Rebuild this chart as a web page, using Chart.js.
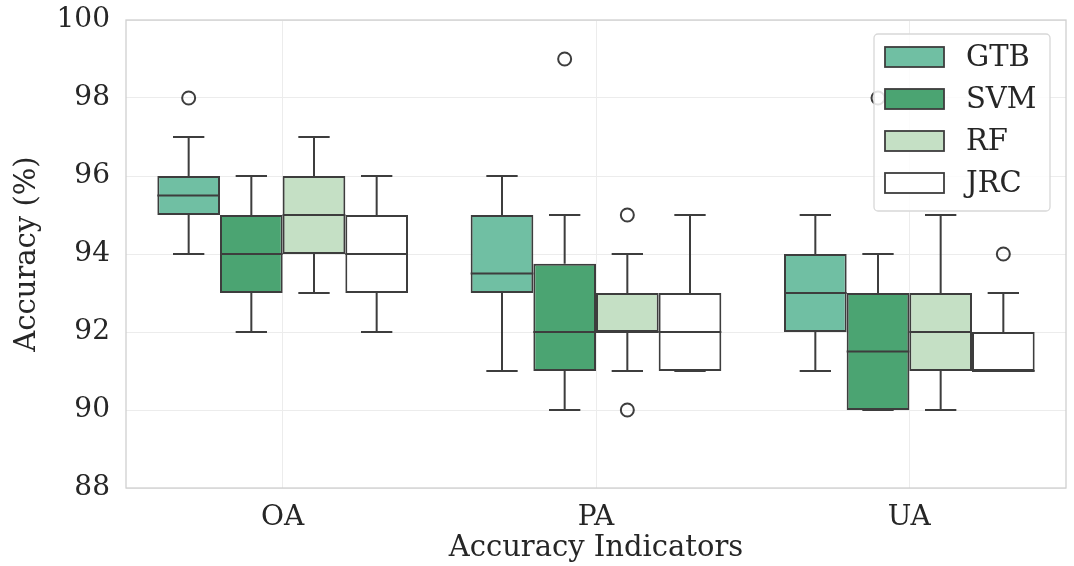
<!DOCTYPE html>
<html>
<head>
<meta charset="utf-8">
<script src="https://cdn.jsdelivr.net/npm/chart.js@4.4.1/dist/chart.umd.min.js"></script>
<style>
  html, body { margin: 0; padding: 0; background: #fff; }
  #wrap { width: 1074px; height: 566px; }
</style>
</head>
<body>
<div id="wrap"><canvas id="accBox"></canvas></div>
<script>
// categories / series
const categories = ['OA', 'PA', 'UA'];
const models = ['GTB', 'SVM', 'RF', 'JRC'];
const yTicks = [88, 90, 92, 94, 96, 98, 100];

// box stats per category (OA, PA, UA)
const gtbQ1 = [95, 93, 92];
const gtbQ3 = [96, 95, 94];
const gtbMed = [95.5, 93.5, 93];
const gtbLow = [94, 91, 91];
const gtbHigh = [97, 96, 95];
const gtbOut = [[98], [], []];

const svmQ1 = [93, 91, 90];
const svmQ3 = [95, 93.75, 93];
const svmMed = [94, 92, 91.5];
const svmLow = [92, 90, 90];
const svmHigh = [96, 95, 94];
const svmOut = [[], [99], [98]];

const rfQ1 = [94, 92, 91];
const rfQ3 = [96, 93, 93];
const rfMed = [95, 92, 92];
const rfLow = [93, 91, 90];
const rfHigh = [97, 94, 95];
const rfOut = [[], [95, 90], []];

const jrcQ1 = [93, 91, 91];
const jrcQ3 = [95, 93, 92];
const jrcMed = [94, 92, 91];
const jrcLow = [92, 91, 91];
const jrcHigh = [96, 95, 93];
const jrcOut = [[], [], [94]];

const boxColors = ['#70bfa3', '#4ba472', '#c5e0c5', '#ffffff'];
const edge = '#3d3d3d';
const font = "'DejaVu Serif', serif";
const txt = '#262626';

const stats = [
    { q1: gtbQ1, q3: gtbQ3, med: gtbMed, low: gtbLow, high: gtbHigh, out: gtbOut },
    { q1: svmQ1, q3: svmQ3, med: svmMed, low: svmLow, high: svmHigh, out: svmOut },
    { q1: rfQ1, q3: rfQ3, med: rfMed, low: rfLow, high: rfHigh, out: rfOut },
    { q1: jrcQ1, q3: jrcQ3, med: jrcMed, low: jrcLow, high: jrcHigh, out: jrcOut },
];

// floating bars = the boxes
let datasets = models.map((m, i) => ({
    label: m,
    data: categories.map((c, j) => [stats[i].q1[j], stats[i].q3[j]]),
    backgroundColor: boxColors[i],
    borderColor: edge,
    borderWidth: 2,
    borderSkipped: false,
    categoryPercentage: 0.8,
    barPercentage: 1.0,
}));

// plot frame behind everything
const framePlugin = {
    id: 'frame',
    beforeDatasetsDraw(chart) {
        const { ctx, chartArea: a } = chart;
        ctx.save();
        ctx.strokeStyle = '#d0d0d0';
        ctx.lineWidth = 1.3;
        ctx.strokeRect(a.left, a.top, a.right - a.left, a.bottom - a.top);
        ctx.restore();
    }
};

// whiskers, caps, medians, fliers
const boxPlugin = {
    id: 'boxParts',
    afterDatasetsDraw(chart) {
        const { ctx } = chart;
        const y = chart.scales.y;
        ctx.save();
        ctx.strokeStyle = edge;
        ctx.lineWidth = 2;
        stats.forEach((s, i) => {
            const meta = chart.getDatasetMeta(i);
            meta.data.forEach((bar, j) => {
                const cx = bar.x;
                const w = bar.width;
                const yQ1 = y.getPixelForValue(s.q1[j]);
                const yQ3 = y.getPixelForValue(s.q3[j]);
                const yLo = y.getPixelForValue(s.low[j]);
                const yHi = y.getPixelForValue(s.high[j]);
                const yMed = y.getPixelForValue(s.med[j]);
                ctx.beginPath();
                // whiskers
                ctx.moveTo(cx, yQ3); ctx.lineTo(cx, yHi);
                ctx.moveTo(cx, yQ1); ctx.lineTo(cx, yLo);
                // caps
                ctx.moveTo(cx - w / 4, yHi); ctx.lineTo(cx + w / 4, yHi);
                ctx.moveTo(cx - w / 4, yLo); ctx.lineTo(cx + w / 4, yLo);
                // median
                ctx.moveTo(cx - w / 2, yMed); ctx.lineTo(cx + w / 2, yMed);
                ctx.stroke();
                s.out[j].forEach(v => {
                    ctx.beginPath();
                    ctx.arc(cx, y.getPixelForValue(v), 6.5, 0, Math.PI * 2);
                    ctx.stroke();
                });
            });
        });
        ctx.restore();
    }
};

// legend box top-right inside the plot
const legendPlugin = {
    id: 'boxLegend',
    afterDraw(chart) {
        const { ctx, chartArea: a } = chart;
        const lw = 176, lh = 177;
        const lx = a.right - lw - 16, ly = a.top + 14;
        ctx.save();
        ctx.fillStyle = 'rgba(255,255,255,0.85)';
        ctx.strokeStyle = '#d8d8d8';
        ctx.lineWidth = 1.3;
        ctx.beginPath();
        ctx.roundRect(lx, ly, lw, lh, 4);
        ctx.fill();
        ctx.stroke();
        ctx.font = '29px ' + font;
        ctx.textBaseline = 'middle';
        models.forEach((m, i) => {
            const cy = ly + 23 + i * 42;
            ctx.fillStyle = boxColors[i];
            ctx.fillRect(lx + 11, cy - 10, 59, 20);
            ctx.strokeStyle = edge;
            ctx.lineWidth = 1.8;
            ctx.strokeRect(lx + 11, cy - 10, 59, 20);
            ctx.fillStyle = txt;
            ctx.fillText(m, lx + 92, cy + 1);
        });
        ctx.restore();
    }
};

let accBox = new Chart(document.getElementById('accBox'), {
    type: 'bar',
    data: {
        labels: categories,
        datasets: datasets
    },
    options: {
        responsive: true,
        maintainAspectRatio: false,
        animation: false,
        layout: { padding: { top: 20, right: 8, left: 0, bottom: 0 } },
        plugins: {
            legend: { display: false },
            tooltip: { enabled: false }
        },
        scales: {
            x: {
                grid: { color: '#ececec', offset: false, drawTicks: false },
                border: { display: false },
                ticks: { color: txt, font: { family: font, size: 28 }, padding: 13 },
                title: { display: true, text: 'Accuracy Indicators', color: txt, font: { family: font, size: 29 }, padding: { top: 0, bottom: 0 } },
                afterFit: (s) => { s.height = 78; }
            },
            y: {
                min: 88,
                max: 100,
                afterBuildTicks: (s) => { s.ticks = yTicks.map(v => ({ value: v })); },
                grid: { color: '#ececec', drawTicks: false },
                border: { display: false },
                ticks: { color: txt, font: { family: font, size: 28 }, padding: 16 },
                title: { display: true, text: 'Accuracy (%)', color: txt, font: { family: font, size: 29 }, padding: { top: 10, bottom: 0 } },
                afterFit: (s) => { s.width = 126; s.paddingTop = 0; s.paddingBottom = 0; }
            }
        }
    },
    plugins: [framePlugin, boxPlugin, legendPlugin]
});
</script>
</body>
</html>
